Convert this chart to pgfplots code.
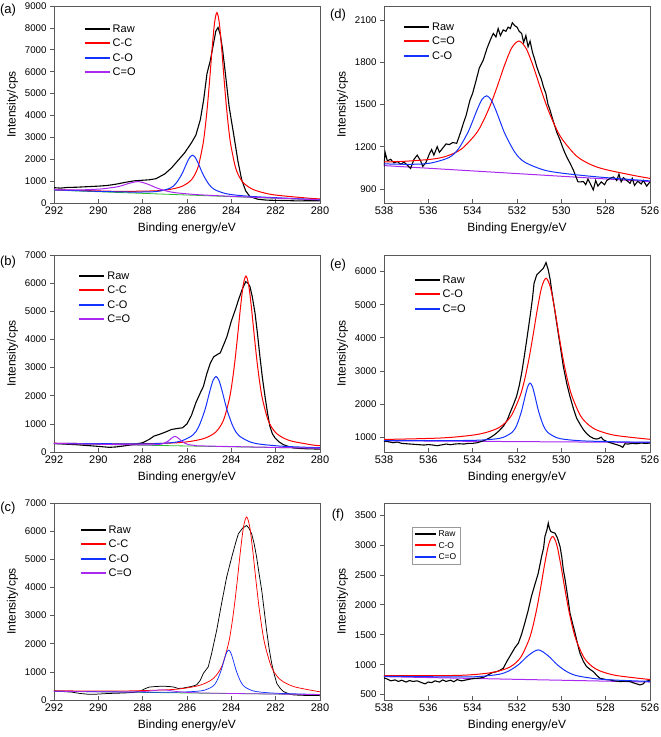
\documentclass[border=0pt]{standalone}
\usepackage{fontspec}
\setmainfont{Liberation Sans}
\usepackage{pgfplots}
\pgfplotsset{compat=1.18}
\definecolor{cpurple}{RGB}{170,40,240}
\definecolor{cblue}{RGB}{20,50,255}
\definecolor{cgreen}{RGB}{40,190,40}
\pgfplotsset{
  xpsbase/.style={
    scale only axis, width=266pt, height=197pt,
    x dir=reverse,
    axis line style={draw=black!65, line width=0.7pt},
    xtick align=inside, ytick align=outside,
    xtick pos=left, ytick pos=left,
    major tick length=4pt,
    every tick/.style={draw=black!65, line width=0.7pt},
    xticklabel style={font=\fontsize{11}{13}\selectfont},
    yticklabel style={font=\fontsize{9.7}{12}\selectfont},
    /pgf/number format/assume math mode=true,
    /pgf/number format/set thousands separator={},
    scaled y ticks=false,
    label style={font=\fontsize{12}{14}\selectfont},
    xlabel style={yshift=-1.5pt},
    ylabel={Intensity/cps},
    legend cell align=left,
    legend style={draw=none, fill=none, anchor=north west, font=\fontsize{11}{13}\selectfont, row sep=1.2pt},
    legend image code/.code={\draw[##1, line width=1.9pt] (0pt,0.5pt) -- (25pt,0.5pt);},
    every axis plot/.append style={line width=1pt},
  },
  cside/.style={xpsbase, xmin=280, xmax=292, xtick={280,282,...,292}, xlabel={Binding energy/eV}},
  oside/.style={xpsbase, xmin=526, xmax=538, xtick={526,528,...,538}},
}
\begin{document}
\begin{tikzpicture}
\useasboundingbox (0pt,0pt) rectangle (661pt,737pt);
% ---------------- (a)
\begin{axis}[cside, at={(54pt,534pt)}, anchor=south west,
  ymin=0, ymax=9000, ytick={0,1000,...,9000},
  legend style={at={(0.1,0.925)}}]
\addplot[cgreen, line width=0.8pt, forget plot] coordinates {(280,140) (292,590)};
\addplot[black, line width=1.1pt] coordinates {
(280,100) (280.5,105) (281,95) (281.5,110) (282,120) (282.4,130) (282.8,170) (283.16,290) (283.35,550) (283.53,1050) (283.7,1900) (283.9,3170) (284.1,4400) (284.3,6200) (284.4,7050) (284.5,7700) (284.6,8020) (284.7,7850) (284.8,7300) (284.95,6500) (285.1,5900) (285.25,4700) (285.4,3800) (285.6,3100) (285.8,2750) (286.1,2300) (286.4,1950) (286.7,1600) (287.0,1330) (287.4,1110) (287.7,1060) (288,1040) (288.4,1010) (288.8,940) (289.2,860) (289.6,800) (290,770) (290.2,760) (290.6,740) (291,720) (291.4,710) (291.7,680) (292,700)};
\addlegendentry{Raw}
\addplot[red, smooth] coordinates {
(280,188) (280.45,215) (282.13,380) (282.97,598) (283.39,860) (283.6,1122) (283.81,1616) (284.02,2631) (284.125,3440) (284.23,4492) (284.335,5762) (284.44,7116) (284.545,8243) (284.65,8700) (284.755,8251) (284.86,7131) (284.965,5785) (285.07,4523) (285.175,3479) (285.28,2678) (285.49,1679) (285.7,1201) (285.91,954) (286.33,723) (287.17,569) (288.85,531) (290,551) (292,609)};
\addlegendentry{C-C}
\addplot[cblue, smooth] coordinates {
(280,150) (282.75,279) (283.75,356) (284.25,429) (284.75,609) (285,837) (285.25,1250) (285.375,1529) (285.5,1828) (285.625,2078) (285.75,2180) (285.875,2087) (286,1846) (286.125,1557) (286.25,1286) (286.5,893) (286.75,683) (287.25,541) (287.75,506) (288.75,503) (290,532) (292,598)};
\addlegendentry{C-O}
\addplot[cpurple, smooth] coordinates {
(280,144) (283,262) (284.8,342) (285.65,389) (286.5,468) (286.925,548) (287.35,681) (287.775,862) (288.2,978) (288.625,893) (289.05,760) (289.475,690) (289.9,640) (290.75,600) (291.6,600) (292,608)};
\addlegendentry{C=O}
\end{axis}
% ---------------- (d)
\begin{axis}[oside, at={(384pt,534pt)}, anchor=south west, xlabel={Binding Energy/eV},
  ymin=800, ymax=2200, ytick={900,1200,...,2100},
  legend style={at={(0.06,0.935)}}]
\addplot[cpurple, forget plot] coordinates {(526,952) (538,1066)};
\addplot[black, line width=1.1pt] coordinates {
(526.0,950) (526.15,920) (526.3,960) (526.4,935) (526.55,955) (526.7,925) (526.8,975) (526.9,940) (527.05,960) (527.2,980) (527.3,950) (527.4,1005) (527.5,960) (527.65,985) (527.8,975) (527.95,960) (528.05,930) (528.2,950) (528.35,920) (528.45,960) (528.56,893) (528.7,940) (528.8,970) (528.9,930) (529.0,952) (529.15,950) (529.25,950) (529.35,990) (529.46,1035) (529.6,1080) (529.76,1129) (529.85,1160) (529.95,1200) (530.06,1248) (530.2,1300) (530.3,1350) (530.4,1400) (530.51,1461) (530.6,1500) (530.7,1580) (530.81,1627) (530.9,1680) (531.0,1720) (531.11,1769) (531.2,1820) (531.3,1870) (531.41,1950) (531.5,1910) (531.6,1990) (531.7,1940) (531.79,2005) (531.9,2020) (532.0,2050) (532.1,2060) (532.21,2081) (532.3,2040) (532.4,2050) (532.5,2020) (532.62,2030) (532.75,1990) (532.85,2040) (532.95,1980) (533.07,2005) (533.2,1960) (533.35,1900) (533.52,1816) (533.7,1760) (533.82,1686) (534.0,1580) (534.12,1532) (534.3,1420) (534.42,1366) (534.55,1300) (534.72,1224) (534.9,1230) (535.05,1215) (535.2,1220) (535.35,1190) (535.5,1160) (535.6,1200) (535.75,1140) (535.85,1180) (535.95,1150) (536.1,1090) (536.25,1060) (536.35,1100) (536.5,1140) (536.65,1110) (536.8,1045) (536.95,1070) (537.1,1090) (537.25,1075) (537.4,1095) (537.55,1085) (537.7,1110) (537.85,1100) (537.95,1160) (538.0,1060)};
\addlegendentry{Raw}
\addplot[red, smooth] coordinates {
(526,975) (526.71,995) (528.01,1038) (528.66,1072) (529.31,1133) (529.96,1253) (530.285,1347) (530.61,1468) (530.935,1613) (531.26,1768) (531.585,1897) (531.91,1951) (532.235,1903) (532.56,1780) (532.885,1631) (533.21,1492) (533.535,1378) (533.86,1290) (534.51,1183) (535.16,1134) (535.81,1112) (537.11,1096) (538,1092)};
\addlegendentry{C=O}
\addplot[cblue, smooth] coordinates {
(526,957) (528.27,984) (529.97,1012) (530.82,1036) (531.67,1092) (532.095,1160) (532.52,1284) (532.7325,1367) (532.945,1456) (533.1575,1531) (533.37,1562) (533.5825,1535) (533.795,1464) (534.0075,1379) (534.22,1300) (534.645,1184) (535.07,1123) (535.92,1083) (536.77,1075) (538,1078)};
\addlegendentry{C-O}
\end{axis}
% ---------------- (b)
\begin{axis}[cside, at={(54pt,285pt)}, anchor=south west,
  ymin=0, ymax=7000, ytick={0,1000,...,7000},
  legend style={at={(0.08,0.935)}}]
\addplot[cgreen, line width=0.8pt, forget plot] coordinates {(280,130) (292,298)};
\addplot[black, line width=1.1pt] coordinates {
(280,105) (280.4,110) (280.8,120) (281.2,145) (281.4,190) (281.65,260) (281.85,360) (282.03,500) (282.15,650) (282.26,910) (282.37,1400) (282.48,1970) (282.6,2650) (282.71,3390) (282.82,4200) (282.93,4930) (283.05,5500) (283.16,5880) (283.25,6000) (283.35,6050) (283.5,5800) (283.68,5400) (283.8,5100) (284.0,4650) (284.2,4100) (284.3,3900) (284.5,3520) (284.6,3480) (284.8,3380) (284.95,3150) (285.1,2800) (285.26,2330) (285.4,2100) (285.6,1750) (285.8,1300) (286.0,1000) (286.2,860) (286.4,840) (286.7,800) (287.0,700) (287.2,640) (287.5,560) (287.7,450) (288.0,330) (288.4,270) (288.8,220) (289.2,180) (289.5,165) (290,200) (290.5,230) (291,260) (291.5,280) (292,300)};
\addlegendentry{Raw}
\addplot[red, smooth] coordinates {
(280,223) (280.34,250) (281.34,399) (281.84,585) (282.09,773) (282.34,1129) (282.59,1861) (282.715,2447) (282.84,3208) (282.965,4127) (283.09,5107) (283.215,5923) (283.34,6253) (283.465,5927) (283.59,5114) (283.715,4137) (283.84,3222) (283.965,2464) (284.09,1882) (284.34,1157) (284.59,808) (284.84,627) (285.34,455) (286.34,334) (288.34,289) (290,294) (292,312)};
\addlegendentry{C-C}
\addplot[cblue, smooth] coordinates {
(280,151) (281.57,199) (282.61,269) (283.13,350) (283.65,576) (283.91,879) (284.17,1432) (284.3,1809) (284.43,2211) (284.56,2547) (284.69,2683) (284.82,2550) (284.95,2219) (285.08,1820) (285.21,1447) (285.47,901) (285.73,605) (286.25,393) (286.77,327) (287.81,287) (290,297) (292,307)};
\addlegendentry{C-O}
\addplot[cpurple, smooth] coordinates {
(280,132) (285.04,210) (285.64,233) (285.94,266) (286.09,308) (286.24,384) (286.39,491) (286.54,556) (286.69,495) (286.84,393) (286.99,321) (287.14,283) (287.44,258) (288.04,252) (292,301)};
\addlegendentry{C=O}
\end{axis}
% ---------------- (e)
\begin{axis}[oside, at={(384pt,285pt)}, anchor=south west, xlabel={Binding energy/eV},
  ymin=550, ymax=6500, ytick={1000,2000,...,6000},
  legend style={at={(0.1,0.915)}}]
\addplot[cpurple, forget plot] coordinates {(526,838) (538,890)};
\addplot[black, line width=1.1pt] coordinates {
(526.0,819) (526.2,810) (526.4,820) (526.6,800) (526.8,810) (527.0,790) (527.13,800) (527.23,690) (527.35,738) (527.5,770) (527.65,800) (527.8,830) (527.95,870) (528.11,920) (528.2,1000) (528.3,960) (528.41,940) (528.55,960) (528.71,1020) (528.85,1100) (529.0,1221) (529.15,1380) (529.31,1573) (529.45,1850) (529.61,2227) (529.75,2600) (529.91,3133) (530.05,3750) (530.21,4441) (530.3,4850) (530.44,5447) (530.5,5750) (530.59,6050) (530.69,6271) (530.81,6100) (530.96,6000) (531.11,5899) (531.23,5648) (531.3,5200) (531.41,4642) (531.56,3938) (531.68,3400) (531.79,2932) (531.9,2550) (532.02,2227) (532.15,2000) (532.32,1724) (532.45,1500) (532.62,1322) (532.84,1171) (533.0,1080) (533.2,990) (533.4,920) (533.6,870) (533.8,830) (534.0,810) (534.2,810) (534.4,790) (534.6,800) (534.8,790) (535.0,770) (535.2,790) (535.4,765) (535.6,740) (535.8,760) (536.0,775) (536.2,760) (536.4,770) (536.6,780) (536.8,790) (537.0,800) (537.2,810) (537.4,850) (537.6,830) (537.8,860) (538.0,880)};
\addlegendentry{Raw}
\addplot[red, smooth] coordinates {
(526,933) (527.57,1052) (528.35,1200) (528.74,1352) (529.13,1640) (529.52,2235) (529.715,2710) (529.91,3320) (530.105,4065) (530.30,4865) (530.495,5530) (530.69,5799) (530.885,5532) (531.08,4870) (531.275,4075) (531.47,3330) (531.665,2710) (531.86,2245) (532.25,1655) (532.64,1368) (533.03,1220) (533.81,1078) (535.37,975) (538,929)};
\addlegendentry{C-O}
\addplot[cblue, smooth] coordinates {
(526,845) (527.41,857) (529.01,885) (529.81,929) (530.21,983) (530.61,1140) (530.81,1350) (531.01,1740) (531.11,2005) (531.21,2295) (531.31,2535) (531.41,2631) (531.51,2535) (531.61,2298) (531.71,2015) (531.81,1750) (532.01,1360) (532.21,1150) (532.61,995) (533.01,942) (533.81,905) (535.41,892) (538,895)};
\addlegendentry{C=O}
\end{axis}
% ---------------- (c)
\begin{axis}[cside, at={(54pt,37pt)}, anchor=south west,
  ymin=0, ymax=7000, ytick={0,1000,...,7000},
  every axis plot/.append style={line width=0.75pt},
  legend image code/.code={\draw[#1, line width=1.9pt] (0pt,0.5pt) -- (25pt,0.5pt);},
  legend style={at={(0.085,0.905)}}]
\addplot[cgreen, forget plot] coordinates {(280,190) (292,310)};
\addplot[black] coordinates {
(280,155) (280.4,160) (280.8,165) (281.2,180) (281.4,220) (281.65,300) (281.8,420) (281.95,590) (282.06,900) (282.18,1300) (282.3,1850) (282.41,2480) (282.52,3200) (282.63,3900) (282.75,4500) (282.86,5080) (282.97,5550) (283.08,5900) (283.2,6100) (283.31,6200) (283.5,6100) (283.68,5910) (283.8,5600) (283.98,5080) (284.21,4370) (284.44,3430) (284.66,2480) (284.89,1650) (285.04,1180) (285.26,950) (285.4,700) (285.56,540) (285.8,480) (286.0,450) (286.2,420) (286.4,410) (286.6,460) (286.8,480) (287.1,490) (287.4,480) (287.7,460) (287.9,400) (288.1,320) (288.4,270) (288.8,250) (289.2,240) (289.6,230) (290.0,210) (290.4,200) (290.8,230) (291.2,280) (291.6,300) (292,320)};
\addlegendentry{Raw}
\addplot[red, smooth] coordinates {
(280,290) (281.11,460) (281.66,650) (281.935,843) (282.21,1210) (282.485,1967) (282.6225,2570) (282.76,3357) (282.8975,4306) (283.035,5318) (283.1725,6161) (283.31,6501) (283.4475,6163) (283.585,5324) (283.7225,4314) (283.86,3368) (283.9975,2584) (284.135,1983) (284.41,1232) (284.685,871) (284.96,683) (285.51,504) (286.61,375) (288.81,321) (290,320) (292,328)};
\addlegendentry{C-C}
\addplot[cblue, smooth] coordinates {
(280,196) (280.52,206) (281.96,239) (282.68,281) (283.04,329) (283.40,469) (283.58,656) (283.76,999) (283.85,1232) (283.94,1481) (284.03,1689) (284.12,1773) (284.21,1691) (284.30,1485) (284.39,1238) (284.48,1006) (284.66,667) (284.84,483) (285.2,351) (285.56,310) (286.28,282) (287.72,278) (292,314)};
\addlegendentry{C-O}
\addplot[cpurple, smooth] coordinates {
(280,191) (284.7,241) (285.9,265) (286.5,305) (286.8,339) (287.1,361) (287.4,345) (287.7,317) (288.3,289) (289.5,289) (292,311)};
\addlegendentry{C=O}
\end{axis}
% ---------------- (f)
\begin{axis}[oside, at={(384pt,37pt)}, anchor=south west, xlabel={Binding energy/eV},
  ymin=410, ymax=3700, ytick={500,1000,...,3500},
  legend style={at={(0.105,0.8775)}, draw=black!40, fill=white, font=\fontsize{8.5}{10}\selectfont, inner sep=1.5pt, row sep=0pt},
  legend image code/.code={\draw[#1, line width=1.9pt] (0pt,0.5pt) -- (21pt,0.5pt);}]
\addplot[cpurple, forget plot] coordinates {(526,710) (538,800)};
\addplot[black, line width=1.1pt] coordinates {
(526.0,745) (526.1,730) (526.23,717) (526.3,680) (526.45,662) (526.7,690) (526.9,717) (527.1,725) (527.35,717) (527.6,730) (527.8,745) (527.95,750) (528.1,760) (528.26,773) (528.4,820) (528.56,885) (528.7,920) (528.86,968) (529.0,1050) (529.16,1191) (529.27,1350) (529.38,1526) (529.5,1700) (529.61,1860) (529.68,2050) (529.76,2250) (529.83,2420) (529.91,2585) (529.98,2800) (530.06,2975) (530.18,3120) (530.29,3198) (530.4,3210) (530.48,3226) (530.54,3280) (530.59,3365) (530.65,3250) (530.74,3142) (530.8,2950) (530.89,2808) (531.04,2529) (531.2,2330) (531.35,2139) (531.5,1900) (531.65,1693) (531.8,1500) (531.94,1358) (532.1,1280) (532.24,1191) (532.45,1060) (532.62,940) (532.8,900) (532.95,880) (533.1,870) (533.3,830) (533.5,790) (533.7,775) (533.9,770) (534.1,760) (534.3,745) (534.5,730) (534.7,750) (534.85,715) (535.0,740) (535.2,720) (535.35,745) (535.5,710) (535.7,730) (535.85,700) (536.0,710) (536.15,680) (536.3,700) (536.5,730) (536.7,720) (536.85,735) (537.0,710) (537.2,740) (537.35,720) (537.5,745) (537.7,730) (537.85,760) (538.0,780)};
\addlegendentry{Raw}
\addplot[red, smooth] coordinates {
(526,753) (526.13,757) (527.55,821) (528.26,896) (528.615,972) (528.97,1113) (529.325,1404) (529.5025,1636) (529.68,1938) (529.8575,2301) (530.035,2688) (530.2125,3011) (530.39,3142) (530.5675,3013) (530.745,2694) (530.9225,2309) (531.10,1948) (531.2775,1650) (531.455,1420) (531.81,1135) (532.165,998) (532.52,928) (533.23,863) (534.65,821) (538,815)};
\addlegendentry{C-O}
\addplot[cblue, smooth] coordinates {
(526,720) (527.52,742) (528.40,763) (529.28,814) (529.72,877) (530.16,991) (530.60,1150) (531.04,1247) (531.48,1156) (531.92,1004) (532.36,897) (532.80,840) (533.68,803) (534.56,795) (538,806)};
\addlegendentry{C=O}
\end{axis}
% panel labels
\node[font=\fontsize{13}{15}\selectfont] at (8pt,727pt) {(a)};
\node[font=\fontsize{13}{15}\selectfont] at (338pt,722pt) {(d)};
\node[font=\fontsize{13}{15}\selectfont] at (8pt,475pt) {(b)};
\node[font=\fontsize{13}{15}\selectfont] at (338pt,472pt) {(e)};
\node[font=\fontsize{13}{15}\selectfont] at (8pt,229pt) {(c)};
\node[font=\fontsize{13}{15}\selectfont] at (338pt,222pt) {(f)};
\end{tikzpicture}
\end{document}
